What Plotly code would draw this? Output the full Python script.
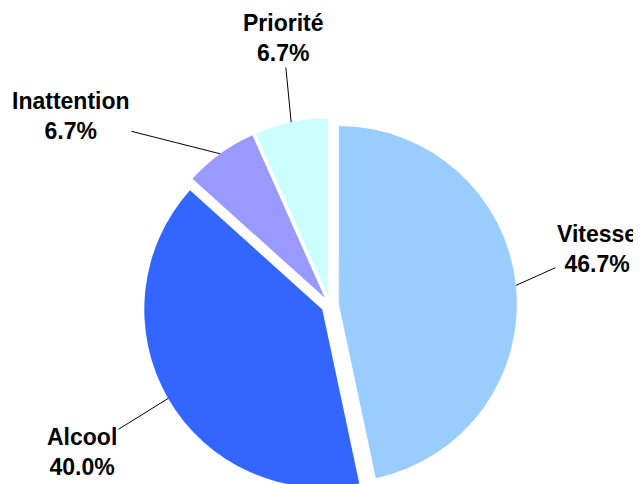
import math
import plotly.graph_objects as go

# Data
categories = ["Vitesse", "Alcool", "Inattention", "Priorité"]
values = [7, 6, 1, 1]
colors = ["#99CCFF", "#3366FF", "#9999FF", "#CCFFFF"]

W, H = 641, 484
OFF = 8            # page body margin: the figure is drawn 8px right/down
PULL = 0.05
R = 178.0          # pie radius in px
CX = 330.0 - OFF   # pie centre in figure px
CY = 305.0 - OFF
half = R * (1 + PULL)

dom_x = [(CX - half) / W, (CX + half) / W]
dom_y = [1 - (CY + half) / H, 1 - (CY - half) / H]
dom_y = [max(0.0, dom_y[0]), min(1.0, dom_y[1])]

fig = go.Figure(go.Pie(
    labels=categories,
    values=values,
    marker=dict(colors=colors, line=dict(width=0)),
    sort=False,
    direction="clockwise",
    rotation=0,
    pull=[PULL] * len(values),
    textinfo="none",
    hoverinfo="label+percent",
    domain=dict(x=dom_x, y=dom_y),
    showlegend=False,
))

# label text positions (screen px, centre of text block)
label_pos = {
    "Vitesse": (597, 249),
    "Alcool": (82, 452),
    "Inattention": (71, 116),
    "Priorité": (283, 38),
}

total = sum(values)
cum = 0.0
for cat, v in zip(categories, values):
    frac = v / total
    mid = (cum + frac / 2) * 2 * math.pi
    cum += frac
    dx, dy = math.sin(mid), -math.cos(mid)
    hx = CX + dx * R * (1 + PULL)
    hy = CY + dy * R * (1 + PULL)
    lx, ly = label_pos[cat]
    lx, ly = lx - OFF, ly - OFF
    pct = f"{frac * 100:.1f}%"
    fig.add_annotation(
        x=hx / W, y=1 - hy / H, xref="paper", yref="paper",
        ax=lx - hx, ay=ly - hy,
        text=f"<b>{cat}</b><br><b>{pct}</b>",
        showarrow=True, arrowhead=0, arrowwidth=1, arrowcolor="#000000",
        standoff=0, startstandoff=0,
        font=dict(family="Liberation Sans, Arial, sans-serif", size=23, color="#000000"),
        align="center",
    )

fig.update_layout(
    width=W, height=H,
    margin=dict(l=0, r=0, t=0, b=0),
    paper_bgcolor="#FFFFFF",
    plot_bgcolor="#FFFFFF",
)

fig.write_html("out.html")
